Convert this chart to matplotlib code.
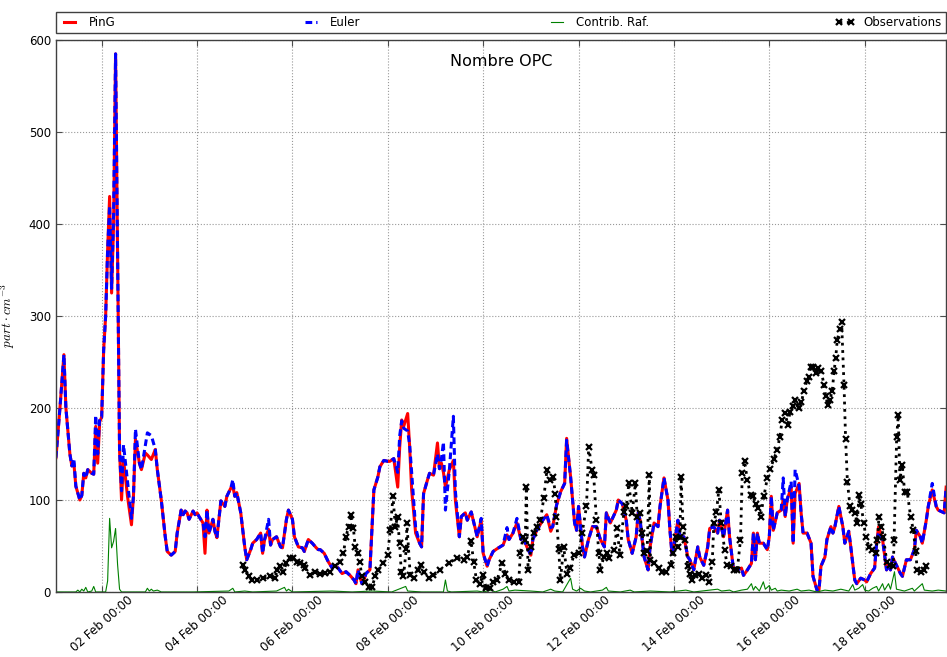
import numpy as np
import pandas as pd
import matplotlib
matplotlib.use("Agg")
import matplotlib.pyplot as plt
import matplotlib.dates as mdates

plt.rcParams['font.family'] = ['DejaVu Sans']
plt.rcParams['mathtext.fontset'] = 'cm'

# Time origin of the simulation (hours counted from here)
t0 = pd.Timestamp("2014-02-01 00:00")

# PinG model (hours, part/cm3)
ping_h = [1, 3, 5, 6, 8, 9, 10, 11, 13, 14,
          15, 16, 17, 19, 20, 21, 22, 23, 24, 25,
          26, 27, 28, 29, 30, 31, 32, 33, 34, 35,
          37, 39, 40, 41, 43, 44, 46, 47, 49, 51,
          52, 54, 56, 57, 59, 61, 62, 64, 65, 66,
          67, 68, 70, 71, 72, 73, 75, 76, 77, 78,
          80, 81, 82, 83, 84, 86, 87, 89, 90, 91,
          92, 94, 95, 96, 97, 99, 100, 102, 104, 105,
          106, 108, 109, 110, 112, 114, 115, 117, 118, 120,
          121, 123, 125, 126, 128, 130, 132, 133, 134, 136,
          138, 140, 141, 143, 145, 147, 149, 151, 152, 153,
          155, 156, 157, 159, 160, 161, 163, 164, 166, 168,
          169, 171, 173, 174, 175, 176, 178, 179, 180, 182,
          184, 185, 186, 188, 189, 191, 193, 194, 195, 196,
          197, 199, 201, 202, 204, 205, 207, 208, 210, 211,
          213, 215, 216, 218, 219, 221, 223, 226, 228, 229,
          231, 233, 235, 236, 238, 240, 241, 243, 246, 248,
          250, 251, 253, 255, 257, 258, 260, 262, 263, 264,
          266, 267, 269, 271, 273, 275, 277, 278, 280, 283,
          284, 286, 288, 289, 291, 293, 294, 295, 296, 297,
          299, 300, 302, 304, 305, 307, 309, 310, 311, 312,
          314, 315, 317, 319, 320, 322, 324, 325, 327, 329,
          330, 332, 334, 335, 337, 339, 340, 342, 344, 346,
          347, 349, 351, 352, 353, 354, 355, 357, 359, 360,
          361, 362, 364, 366, 367, 368, 369, 371, 372, 373,
          375, 376, 377, 379, 381, 382, 384, 385, 386, 388,
          389, 391, 392, 393, 395, 397, 398, 400, 401, 403,
          404, 406, 408, 409, 411, 413, 414, 415, 417, 419,
          420, 421, 422, 424, 426, 427, 429, 431, 433, 434,
          436, 437, 439, 440, 442, 444, 445, 447, 448, 449]
ping_v = [146, 200, 258, 200, 150, 137, 140, 115, 100, 105,
          129, 124, 133, 129, 128, 180, 140, 185, 190, 263,
          300, 372, 430, 325, 400, 585, 372, 154, 100, 144,
          104, 73, 104, 166, 140, 133, 151, 149, 144, 155,
          133, 100, 60, 44, 40, 44, 64, 89, 84, 88,
          86, 79, 88, 84, 86, 82, 75, 42, 89, 64,
          79, 66, 59, 79, 99, 93, 104, 113, 115, 104,
          108, 86, 68, 49, 35, 46, 53, 57, 64, 42,
          57, 68, 51, 57, 60, 49, 48, 79, 89, 79,
          60, 49, 48, 44, 57, 53, 48, 46, 46, 42,
          33, 26, 29, 26, 20, 22, 18, 13, 9, 24,
          9, 13, 20, 24, 67, 111, 125, 136, 143, 142,
          142, 145, 114, 158, 187, 180, 194, 158, 111, 64,
          53, 49, 107, 122, 129, 127, 162, 134, 140, 130,
          114, 133, 143, 100, 60, 82, 86, 78, 87, 78,
          60, 78, 42, 28, 35, 44, 47, 51, 62, 57,
          64, 75, 57, 60, 49, 40, 57, 67, 78, 84,
          66, 71, 95, 109, 118, 167, 125, 75, 67, 93,
          49, 38, 57, 71, 71, 57, 49, 86, 75, 89,
          100, 96, 78, 57, 42, 60, 86, 78, 57, 38,
          24, 49, 75, 71, 93, 124, 100, 67, 42, 49,
          78, 60, 60, 38, 35, 24, 49, 38, 29, 49,
          69, 71, 64, 78, 60, 89, 60, 24, 24, 26,
          18, 24, 31, 64, 35, 64, 53, 53, 46, 60,
          104, 67, 86, 89, 100, 82, 100, 114, 53, 107,
          118, 86, 64, 64, 53, 17, 2, 2, 28, 38,
          57, 71, 64, 71, 93, 71, 53, 66, 49, 13,
          9, 15, 13, 11, 20, 26, 53, 71, 57, 24,
          29, 24, 38, 29, 20, 17, 35, 35, 46, 67,
          60, 53, 78, 93, 111, 93, 89, 87, 86, 114]

# Eulerian model on the same output times
euler_v = [146, 200, 258, 200, 150, 137, 145, 115, 100, 105,
           129, 124, 133, 129, 128, 192, 150, 190, 190, 263,
           300, 372, 420, 330, 410, 585, 372, 154, 110, 160,
           120, 80, 104, 177, 140, 133, 160, 173, 170, 155,
           133, 100, 60, 44, 40, 44, 64, 89, 84, 88,
           86, 79, 88, 84, 86, 82, 75, 60, 89, 64,
           79, 66, 59, 79, 99, 93, 104, 113, 122, 104,
           108, 86, 68, 49, 35, 46, 53, 57, 64, 42,
           57, 79, 51, 57, 60, 49, 48, 79, 89, 79,
           60, 49, 48, 44, 57, 53, 48, 46, 46, 42,
           33, 26, 29, 26, 20, 22, 18, 13, 9, 24,
           9, 13, 20, 24, 67, 111, 125, 136, 143, 142,
           142, 145, 130, 170, 186, 178, 175, 160, 130, 70,
           53, 49, 107, 122, 129, 127, 150, 134, 145, 163,
           89, 133, 191, 110, 60, 82, 86, 78, 87, 78,
           60, 80, 42, 28, 35, 44, 47, 51, 70, 57,
           64, 80, 57, 60, 49, 40, 57, 67, 78, 84,
           70, 71, 95, 109, 118, 165, 125, 75, 67, 93,
           49, 38, 57, 71, 71, 57, 49, 86, 75, 89,
           100, 96, 78, 57, 42, 60, 86, 78, 57, 38,
           24, 49, 75, 71, 93, 124, 100, 67, 42, 49,
           78, 60, 60, 38, 35, 24, 49, 38, 29, 49,
           69, 71, 64, 78, 60, 89, 60, 24, 24, 26,
           18, 24, 31, 64, 35, 64, 53, 53, 46, 60,
           104, 67, 86, 89, 124, 82, 100, 120, 53, 133,
           115, 86, 64, 64, 53, 17, 2, 2, 28, 38,
           57, 71, 64, 71, 93, 71, 53, 66, 49, 13,
           9, 15, 13, 11, 20, 26, 53, 65, 57, 24,
           29, 24, 38, 29, 20, 17, 35, 35, 46, 67,
           60, 53, 78, 93, 118, 93, 89, 87, 86, 114]

# Contribution of the refined (plume) part
raf_h = [1, 11, 12, 13, 14, 15, 16, 17, 19, 20, 21, 26, 27, 28, 29, 30, 31, 32,
         33, 34, 46, 47, 48, 49, 50, 52, 54, 70, 88, 90, 91, 96, 100, 112, 116,
         117, 118, 120, 140, 150, 160, 170, 177, 178, 185, 196, 197, 198, 200,
         213, 216, 220, 222, 226, 228, 229, 232, 240, 246, 250, 252, 256, 260,
         261, 263, 265, 267, 270, 276, 278, 279, 285, 290, 292, 300, 310, 318,
         322, 330, 334, 336, 340, 342, 346, 349, 351, 352, 353, 355, 357, 358,
         360, 361, 363, 364, 366, 370, 374, 376, 380, 384, 388, 392, 396, 400,
         402, 403, 405, 407, 408, 410, 412, 414, 415, 417, 418, 420, 421, 423,
         424, 426, 428, 432, 433, 437, 438, 442, 445, 449]
raf_v = [0, 0, 2, 0, 3, 1, 5, 0, 1, 6, 0, 0, 12, 80, 48, 55, 69, 30,
         3, 0, 0, 4, 1, 3, 1, 2, 0, 0, 1, 4, 0, 1, 0, 1, 5,
         1, 3, 0, 1, 0, 1, 0, 6, 1, 0, 0, 13, 1, 0,
         1, 0, 2, 0, 3, 6, 1, 2, 1, 0, 3, 1, 0, 15,
         3, 1, 4, 1, 0, 2, 5, 1, 0, 2, 0, 1, 0, 2,
         0, 2, 3, 1, 2, 0, 2, 3, 9, 2, 6, 1, 11, 3,
         7, 2, 4, 1, 2, 1, 3, 1, 2, 0, 2, 1, 3, 1,
         8, 2, 4, 8, 2, 1, 4, 6, 1, 9, 2, 9, 3, 22,
         3, 2, 1, 4, 1, 9, 2, 1, 2, 1]

# OPC observations
obs_h = [95.2, 96.2, 97.9, 99.6, 102.1, 105.4, 108.8, 111.3, 112.2, 113.8,
         115.5, 116.9, 118.9, 120.5, 122.2, 123.9, 125.6, 126.4, 128.9, 131.5,
         134.0, 136.5, 139.0, 141.5, 144.0, 145.7, 146.9, 148.3, 149.4, 150.7,
         151.6, 152.8, 153.8, 155.0, 156.6, 158.3, 160.0, 161.7, 163.3, 165.6,
         167.9, 169.2, 170.6, 171.8, 172.9, 173.9, 174.8, 175.9, 177.3, 177.6,
         179.3, 181.0, 183.0, 184.7, 186.0, 188.5, 191.0, 194.4, 198.6, 202.8,
         206.2, 207.9, 209.9, 211.2, 212.6, 214.2, 215.9, 217.6, 219.6, 221.0,
         223.0, 225.5, 227.2, 228.8, 231.3, 233.9, 234.7, 236.1, 237.2, 237.7,
         238.6, 240.1, 241.4, 243.1, 244.8, 246.5, 248.1, 249.8, 251.2, 252.3,
         252.8, 254.0, 254.9, 256.5, 258.2, 259.9, 261.6, 264.1, 265.8, 268.0,
         269.1, 270.8, 271.6, 273.0, 274.2, 275.0, 276.7, 278.4, 279.2, 281.7,
         283.4, 284.8, 286.8, 288.1, 289.3, 291.0, 292.6, 293.5, 294.8, 296.0,
         296.9, 298.5, 299.6, 300.2, 301.8, 304.4, 306.1, 307.8, 310.3, 311.6,
         312.8, 313.9, 315.0, 315.6, 316.6, 317.8, 319.0, 320.0, 321.2, 322.8,
         324.5, 326.2, 327.9, 329.6, 331.3, 332.1, 333.4, 334.6, 335.8, 337.5,
         338.8, 340.8, 342.2, 343.9, 345.5, 346.4, 347.6, 348.9, 350.6, 351.9,
         353.1, 354.3, 355.6, 357.3, 359.0, 360.6, 362.3, 364.0, 365.3, 366.5,
         367.7, 369.4, 370.4, 371.9, 372.9, 374.9, 376.2, 377.4, 378.8, 379.9,
         380.8, 381.8, 383.3, 384.5, 386.2, 387.5, 388.4, 389.5, 390.5, 391.7,
         392.6, 393.4, 394.2, 395.6, 396.4, 397.6, 398.4, 399.3, 400.6, 401.8,
         403.0, 404.3, 405.1, 406.0, 407.6, 408.5, 410.2, 411.9, 413.5, 414.4,
         415.2, 416.4, 417.4, 419.1, 420.8, 422.4, 422.8, 424.1, 424.9, 425.7,
         426.9, 428.1, 429.4, 431.1, 432.5, 433.6, 434.5, 436.1, 437.8, 439.1]
obs_v = [29, 24, 17, 13, 13, 15, 17, 15, 24, 28,
         22, 31, 37, 37, 33, 31, 29, 26, 18, 22,
         20, 21, 22, 28, 33, 42, 60, 71, 84, 69,
         49, 42, 33, 17, 11, 5, 5, 17, 24, 31,
         40, 67, 104, 71, 82, 53, 22, 17, 47, 75,
         18, 15, 24, 29, 22, 15, 18, 24, 31, 37,
         35, 38, 55, 33, 13, 9, 18, 4, 4, 11,
         13, 31, 20, 13, 11, 11, 42, 60, 57, 114,
         24, 49, 64, 71, 78, 102, 133, 122, 125, 107,
         82, 47, 13, 49, 20, 26, 40, 42, 64, 93,
         158, 133, 127, 78, 42, 24, 38, 42, 37, 46,
         69, 40, 87, 93, 118, 86, 118, 82, 86, 64,
         42, 44, 127, 35, 31, 26, 22, 22, 29, 42,
         60, 49, 60, 125, 71, 57, 28, 20, 13, 18,
         20, 15, 18, 11, 33, 75, 87, 111, 75, 46,
         29, 28, 24, 24, 57, 129, 142, 122, 105, 104,
         96, 91, 82, 104, 124, 134, 145, 154, 169, 187,
         195, 182, 196, 202, 209, 200, 207, 218, 229, 234,
         245, 245, 238, 243, 240, 225, 213, 203, 209, 219,
         240, 254, 274, 286, 293, 225, 166, 120, 93, 89,
         86, 75, 105, 96, 75, 60, 49, 46, 42, 57,
         82, 71, 60, 33, 29, 28, 57, 169, 192, 122,
         138, 109, 109, 82, 67, 44, 24, 22, 24, 28]

x_start_h, x_end_h = 1, 449


def to_time(hours):
    return t0 + pd.to_timedelta(np.asarray(hours, dtype=float), unit="h")


fig = plt.figure(figsize=(9.47, 6.57), dpi=100)
ax = fig.add_axes([0.0591, 0.099, 0.94, 0.840])

ax.plot(to_time(ping_h), ping_v, color='red', lw=2.2, label='PinG')
ax.plot(to_time(ping_h), euler_v, color='blue', lw=2.2, ls='--',
        dashes=(2.2, 1.3), label='Euler')
ax.plot(to_time(raf_h), raf_v, color='green', lw=0.8, label='Contrib. Raf.')
ax.plot(to_time(obs_h), obs_v, color='black', ls=':', lw=2.0, marker='x',
        ms=5, mew=1.6, label='Observations')

ax.set_xlim(to_time([x_start_h])[0], to_time([x_end_h])[0])
ax.set_ylim(0, 600)
ax.set_yticks(np.arange(0, 601, 100))

ax.xaxis.set_major_locator(mdates.DayLocator(bymonthday=range(2, 32, 2)))
ax.xaxis.set_major_formatter(mdates.DateFormatter('%d %b %H:%M'))
for lab in ax.get_xticklabels():
    lab.set_rotation(41)
    lab.set_ha('center')

ax.tick_params(direction='in', labelsize=8.5, top=True, right=True,
               length=4, color='0.3')
ax.tick_params(axis='x', labelsize=8.6, pad=1)
ax.grid(True, ls=':', color='0.6', lw=0.8)
for sp in ax.spines.values():
    sp.set_color('0.25')
    sp.set_linewidth(1.0)

ax.set_ylabel(r'$part\cdot cm^{-3}$', fontsize=9.5)
ax.yaxis.set_label_coords(-0.044, 0.5)
ax.text(0.5, 0.975, 'Nombre OPC', transform=ax.transAxes, ha='center',
        va='top', fontsize=11.5)

leg = ax.legend(bbox_to_anchor=(0.0, 1.012, 1.0, 0.05), loc='lower left',
                ncol=4, mode='expand', borderaxespad=0.0, fontsize=8.5,
                handlelength=1.6, numpoints=2, fancybox=False,
                framealpha=1.0, borderpad=0.35)
leg.get_frame().set_edgecolor('0.25')
leg.get_frame().set_linewidth(1.0)

fig.savefig('out.png', dpi=100)
